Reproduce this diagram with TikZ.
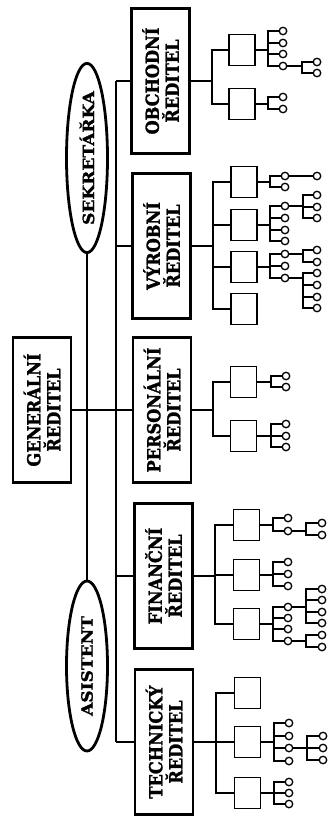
\documentclass[tikz,border=0pt]{standalone}
\usepackage{fontspec}
\setmainfont[FakeStretch=0.9, BoldFeatures={FakeBold=1.5}]{DejaVu Serif}
\newfontfamily\matefont[FakeStretch=1.1, BoldFeatures={FakeBold=1.5}]{DejaVu Serif}
\usetikzlibrary{shapes.geometric}

\begin{document}
\begin{tikzpicture}[
    x=1pt, y=-1pt,
    line width=1.5pt,
    head/.style={draw, line width=2.8pt, rotate=90, minimum width=145pt, minimum height=58pt,
        inner sep=0pt, align=center, font=\bfseries\fontsize{18}{20}\selectfont},
    mate/.style={ellipse, draw, line width=2.8pt, rotate=90, minimum width=170pt, minimum height=41pt,
        inner sep=0pt, font=\matefont\bfseries\fontsize{15.5}{18}\selectfont},
    unit/.style={draw, line width=1.5pt, minimum width=26pt, minimum height=31pt, inner sep=0pt},
    leaf/.style={circle, draw, line width=1.3pt, minimum size=7.5pt, inner sep=0pt}
]
\useasboundingbox (0,0) rectangle (329,819);

% Top management
\node[head] (gen) at (42,410) {GENERÁLNÍ\\ŘEDITEL};
\node[mate] (sekr) at (87,158) {SEKRETÁŘKA};
\node[mate] (asist) at (87,666) {ASISTENT};

% Directors
\node[head] (obch) at (160.5,81) {OBCHODNÍ\\ŘEDITEL};
\node[head] (vyr) at (161.5,246) {VÝROBNÍ\\ŘEDITEL};
\node[head] (pers) at (162,410) {PERSONÁLNÍ\\ŘEDITEL};
\node[head] (fin) at (163.5,576) {FINANČNÍ\\ŘEDITEL};
\node[head] (tech) at (164,742) {TECHNICKÝ\\ŘEDITEL};

% Main lines
\draw (sekr) -- (asist);
\draw (gen) -- (pers);
\coordinate (bus) at (116,0);
\draw (bus |- obch) -- (bus |- tech);
\foreach \d in {obch,vyr,pers,fin,tech}
    \draw (bus |- \d) -- (\d);

% Departments under each director
\foreach \p/\c/\f/\x/\ys in {obch/o/212/242/{50,104}, vyr/v/213/244/{182,225,267,309},
        pers/p/213/243.5/{382,436}, fin/f/215/246.5/{525,575,624}, tech/t/216/247.5/{693,742,793}}{
    \coordinate (F) at (\f,0);
    \coordinate (\c-f) at (\p -| F);
    \draw (\p) -- (\c-f);
    \foreach \y [count=\i] in \ys {
        \node[unit] (\c\i) at (\x,\y) {};
        \draw (\c\i) -| (\c-f);
    }
}

% Sections (circles)
\foreach \p/\c/\f/\x/\ys in {
        o1/o1c/268/283/{31,43,54,66}, o2/o2c/268/283/{97,109}, o1c4/o1d/302/317/{62,73},
        v1/v1c/270/285/{176,187}, v1c1/v1d/303/317/{176},
        v2/v2c/270/285/{206,218,230,241}, v2c1/v2d/303/317/{195,207,218},
        v3/v3c/270/285/{254,266,278}, v3c1/v3d/303/317/{250,262}, v3c3/v3e/303/317/{273,285,297,308},
        p1/p1c/271/286/{376,387}, p2/p2c/271/286/{424,436,447},
        f1/f1c/273/288/{518,531}, f1c2/f1d/306/322/{523,535}, f2/f2c/273/288/{562,574,586},
        f3/f3c/273/288/{607,618,629,641}, f3c1/f3d/306/322/{589,600,612,623}, f3c4/f3e/306/322/{635,647},
        t2/t2c/274/289/{723,736,748,761}, t2c3/t2d/307/323/{736,748,760}, t3/t3c/274/289/{782,793,804}}{
    \coordinate (F) at (\f,0);
    \coordinate (\c-f) at (\p -| F);
    \draw (\p) -- (\c-f);
    \foreach \y [count=\i] in \ys {
        \node[leaf] (\c\i) at (\x,\y) {};
        \draw (\c\i) -| (\c-f);
    }
}

\end{tikzpicture}
\end{document}
